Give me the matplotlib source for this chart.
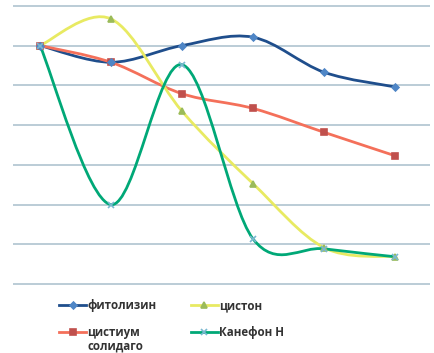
import matplotlib
matplotlib.use("Agg")
import matplotlib.pyplot as plt
from matplotlib.path import Path
from matplotlib.patches import PathPatch
from matplotlib.lines import Line2D
import numpy as np

categories = [1, 2, 3, 4, 5, 6]
fitolizin = [6.0, 5.58, 6.0, 6.21, 5.33, 4.96]
cistium = [6.0, 5.58, 4.79, 4.42, 3.82, 3.23]
ciston = [6.0, 6.67, 4.35, 2.53, 0.92, 0.69]
kanefron = [6.0, 2.0, 5.52, 1.14, 0.89, 0.69]

labels = ["фитолизин", "цистиум", "цистон", "Канефон Н"]
label_extra = "солидаго"

line_colors = ["#1f4e8c", "#f4705a", "#e8ea62", "#00a877"]
marker_colors = ["#4f86c6", "#c0504d", "#9bbb59", "#7ab8d0"]
markers = ["D", "s", "^", "x"]
msizes = [3.5, 5, 5, 5]

plt.rcParams['font.family'] = ['Open Sans', 'DejaVu Sans']

fig = plt.figure(figsize=(4.35, 3.53), dpi=100)
ax = fig.add_axes([13/435, (353-285)/353, 417/435, 280/353])

def smooth_path(xs, ys):
    pts = np.column_stack([xs, ys]).astype(float)
    n = len(pts)
    verts = [pts[0]]
    codes = [Path.MOVETO]
    for i in range(n - 1):
        p0 = pts[i - 1] if i > 0 else pts[i]
        p1 = pts[i]
        p2 = pts[i + 1]
        p3 = pts[i + 2] if i + 2 < n else pts[i + 1]
        c1 = p1 + (p2 - p0) / 6.0
        c2 = p2 - (p3 - p1) / 6.0
        verts += [c1, c2, p2]
        codes += [Path.CURVE4] * 3
    return Path(verts, codes)

series = [fitolizin, cistium, ciston, kanefron]
x = np.arange(len(categories))
handles = []
order = [2, 1, 0, 3]
for k in order:
    ys = series[k]
    patch = PathPatch(smooth_path(x, ys), facecolor='none', edgecolor=line_colors[k],
                      lw=2.0, zorder=3 + k * 0.1, capstyle='round', joinstyle='round')
    ax.add_patch(patch)
    ax.plot(x, ys, ls='none', marker=markers[k], ms=msizes[k], color=marker_colors[k],
            mec=marker_colors[k], mew=1.2, zorder=4)
for k in range(4):
    handles.append(Line2D([0], [0], color=line_colors[k], lw=2.0, marker=markers[k],
                          ms=msizes[k], mfc=marker_colors[k], mec=marker_colors[k], mew=1.2))

ax.set_xlim(-27/71, 390/71)
ax.set_ylim(-0.02, 7.02)
ax.set_yticks(range(8))
ax.set_xticks([])
ax.yaxis.grid(True, color="#a8bfcc", lw=1.1)
ax.set_axisbelow(True)
ax.tick_params(left=False, labelleft=False, bottom=False)
for s in ax.spines.values():
    s.set_visible(False)

fs = 8.3
leg = fig.legend(handles, labels, ncol=2, loc='upper left',
                 bbox_to_anchor=(59/435, (353-299)/353), frameon=False,
                 prop={'size': fs, 'weight': 'bold'}, handlelength=2.35,
                 columnspacing=3.0, labelspacing=1.2, handletextpad=0.1,
                 borderpad=0, borderaxespad=0)
for t in leg.get_texts():
    t.set_color("#333333")

fig.canvas.draw()
ref = leg.get_texts()[1]
bb = ref.get_window_extent()
fig.text(bb.x0 / fig.bbox.width, (bb.y0 - 1) / fig.bbox.height, label_extra,
         fontsize=fs, fontweight='bold', color="#333333", ha='left', va='top')

fig.savefig("out.png", dpi=100)
